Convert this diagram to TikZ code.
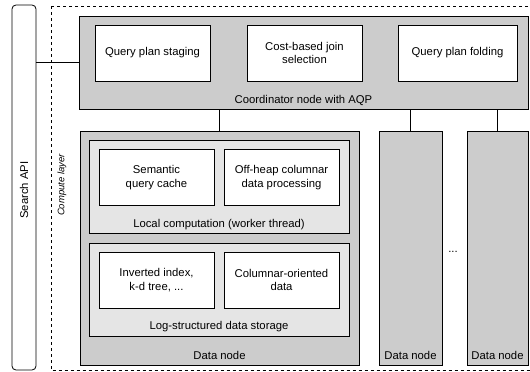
\documentclass[tikz,border=0pt]{standalone}
\usepackage{fontspec}
\setmainfont{Liberation Sans}
\usetikzlibrary{positioning}
\tikzset{
  darkbox/.style={draw,line width=0.8pt,fill=gray!40,inner sep=0pt},
  lightbox/.style={draw,line width=0.8pt,fill=gray!20,inner sep=0pt},
  whitebox/.style={draw,line width=0.8pt,fill=white,align=center,inner sep=0pt,
    minimum width=115pt,minimum height=56pt},
  link/.style={line width=0.8pt}
}
\begin{document}
\begin{tikzpicture}[x=1pt,y=-1pt,font=\fontsize{11.3}{13.6}\selectfont]
		\clip (0,0) rectangle (530,372);
		% Search API
		\node[draw,line width=0.8pt,rounded corners=4pt,minimum width=24pt,minimum height=365pt,inner sep=0pt] (api) at (24,187.5) {};
		\node[rotate=90] (apilbl) at (24,190) {Search API};
		% Compute layer
		\draw[dashed,line width=0.8pt] (51,6) rectangle (540,370.5);
		\node[rotate=90,font=\fontsize{9.5}{11}\selectfont\itshape] (complbl) at (62,185) {Compute layer};
		% Coordinator
		\node[darkbox,minimum width=449pt,minimum height=93pt] (coord) at (303.5,62.5) {};
		\node[whitebox] (staging) at (152.5,53) {Query plan staging};
		\node[whitebox] (join) at (304.5,53) {Cost-based join\\selection};
		\node[whitebox,minimum width=119pt] (folding) at (457.5,53) {Query plan folding};
		\node (coordlbl) at (303.5,100) {Coordinator node with AQP};
		% Data nodes
		\node[darkbox,minimum width=279pt,minimum height=234pt] (dn1) at (219.5,248) {};
		\node[darkbox,minimum width=63pt,minimum height=234pt] (dn2) at (410.5,248) {};
		\node[darkbox,minimum width=61pt,minimum height=234pt] (dn3) at (497.5,248) {};
		\node (dn1lbl) at (219.5,355) {Data node};
		\node (dn2lbl) at (410.5,355) {Data node};
		\node (dn3lbl) at (497.5,355) {Data node};
		\node (dots) at (453,252) {...};
		% Local computation
		\node[lightbox,minimum width=260pt,minimum height=93pt] (local) at (219,186.5) {};
		\node[whitebox] (cache) at (156.5,177.5) {Semantic\\query cache};
		\node[whitebox] (offheap) at (281.5,177.5) {Off-heap columnar\\data processing};
		\node (locallbl) at (219,225) {Local computation (worker thread)};
		% Log-structured storage
		\node[lightbox,minimum width=260pt,minimum height=93pt] (storage) at (219,289.5) {};
		\node[whitebox] (index) at (156.5,280) {Inverted index,\\k-d tree, ...};
		\node[whitebox] (columnar) at (281.5,280) {Columnar-oriented\\data};
		\node (storagelbl) at (219,327) {Log-structured data storage};
		% Links
		\draw[link] (coord.west) -- (coord.west -| api.east);
		\draw[link] (dn1.north) -- (dn1.north |- coord.south);
		\draw[link] (dn2.north) -- (dn2.north |- coord.south);
		\draw[link] (dn3.north) -- (dn3.north |- coord.south);
\end{tikzpicture}
\end{document}
